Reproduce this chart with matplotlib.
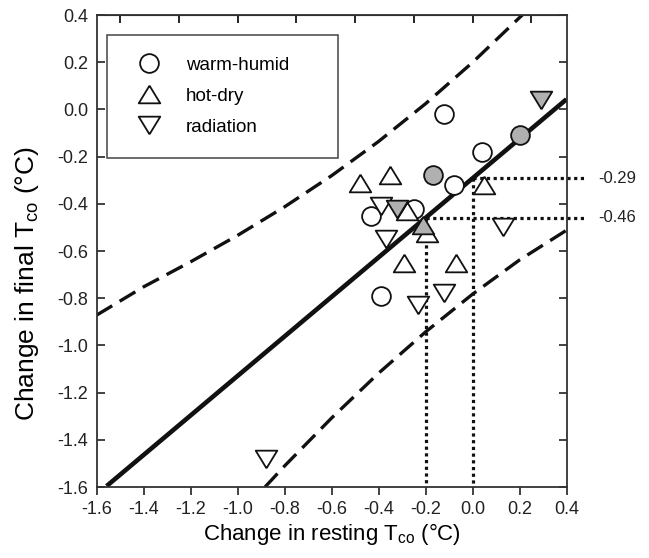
import numpy as np
import matplotlib
matplotlib.use("Agg")
import matplotlib.pyplot as plt
from matplotlib.lines import Line2D

plt.rcParams['font.family'] = ['Liberation Sans', 'DejaVu Sans']
plt.rcParams['mathtext.fontset'] = 'custom'
plt.rcParams['mathtext.rm'] = 'Liberation Sans'
plt.rcParams['mathtext.it'] = 'Liberation Sans:italic'

# datos
wh_x = [-0.12, 0.04, -0.08, -0.43, -0.25, -0.39]
wh_y = [-0.02, -0.18, -0.32, -0.45, -0.42, -0.79]
wh_gx = [0.20, -0.17]
wh_gy = [-0.11, -0.28]

hd_x = [-0.48, -0.35, 0.05, -0.28, -0.195, -0.29, -0.07]
hd_y = [-0.31, -0.28, -0.32, -0.43, -0.525, -0.65, -0.65]
hd_gx = [-0.21]
hd_gy = [-0.49]

rad_x = [-0.39, 0.13, -0.37, -0.23, -0.12, -0.88]
rad_y = [-0.41, -0.50, -0.55, -0.83, -0.78, -1.48]
rad_gx = [0.29, -0.32]
rad_gy = [0.04, -0.42]

# recta de regresion
slope = 0.8375
intercept = -0.292
reg_x = [-1.557, 0.4]

# bandas (leidas)
up_x = [-1.6, -1.4, -1.2, -1.0, -0.8, -0.6, -0.4, -0.2, 0.0, 0.2, 0.212]
up_y = [-0.872, -0.752, -0.646, -0.534, -0.413, -0.281, -0.136, 0.024, 0.199, 0.389, 0.40]
lo_x = [-0.883, -0.8, -0.6, -0.4, -0.2, 0.0, 0.2, 0.4]
lo_y = [-1.6, -1.511, -1.308, -1.118, -0.943, -0.783, -0.638, -0.512]

# lineas punteadas
ann_x = [0.0, -0.2]
ann_lbl = ['-0.29', '-0.46']

ticks = [-1.6, -1.4, -1.2, -1.0, -0.8, -0.6, -0.4, -0.2, 0.0, 0.2, 0.4]
tick_lbl = ['-1.6', '-1.4', '-1.2', '-1.0', '-0.8', '-0.6', '-0.4', '-0.2', '0.0', '0.2', '0.4']

gray = '#b0b0b0'
ink = '#111111'
tri_up = [(0, 0.82), (-1, -0.82), (1, -0.82), (0, 0.82)]
tri_dn = [(0, -0.82), (-1, 0.82), (1, 0.82), (0, -0.82)]

fig = plt.figure(figsize=(6.49, 5.58), dpi=100)
ax = fig.add_axes([0.1487, 0.1272, 0.7242, 0.8459])
ax.set_xlim(-1.6, 0.4)
ax.set_ylim(-1.6, 0.4)

# bandas y regresion
ax.plot(up_x, up_y, color=ink, lw=2.4, dashes=(5.5, 2.6), dash_capstyle='butt', zorder=2)
ax.plot(lo_x, lo_y, color=ink, lw=2.4, dashes=(5.5, 2.6), dash_capstyle='butt', zorder=2)
ry = [slope * v + intercept for v in reg_x]
ax.plot(reg_x, ry, color=ink, lw=3.3, solid_capstyle='butt', zorder=2)

# punteadas
for xv, lbl in zip(ann_x, ann_lbl):
    yv = slope * xv + intercept
    ax.plot([xv, xv], [yv, -1.6], color=ink, lw=2.3, dashes=(1, 1.1),
            dash_capstyle='butt', zorder=2, clip_on=False)
    ax.plot([xv, 0.477], [yv, yv], color=ink, lw=2.3, dashes=(1, 1.1),
            dash_capstyle='butt', zorder=2, clip_on=False)
    ax.text(0.534, yv, lbl, fontsize=12, ha='left', va='center', color='#222222')

# puntos
mk = dict(linestyle='none', markeredgecolor=ink, markeredgewidth=1.3, zorder=4)
ax.plot(wh_x, wh_y, marker='o', ms=13.5, markerfacecolor='white', **mk)
ax.plot(wh_gx, wh_gy, marker='o', ms=13.5, markerfacecolor=gray, **mk)
ax.plot(hd_x, hd_y, marker=tri_up, ms=15.5, markerfacecolor='white', **mk)
ax.plot(hd_gx, hd_gy, marker=tri_up, ms=15.5, markerfacecolor=gray, **mk)
ax.plot(rad_x, rad_y, marker=tri_dn, ms=15.5, markerfacecolor='white', **mk)
ax.plot(rad_gx, rad_gy, marker=tri_dn, ms=15.5, markerfacecolor=gray, **mk)

# ejes
ax.set_xticks(ticks)
ax.set_xticklabels(tick_lbl)
ax.set_yticks(ticks)
ax.set_yticklabels(tick_lbl)
for s in ax.spines.values():
    s.set_linewidth(1.3)
    s.set_color('#333333')
ax.tick_params(axis='both', labelsize=13, colors='#222222', width=1.2, length=6)
ax.tick_params(axis='y', direction='in', right=True, pad=6)
ax.tick_params(axis='x', direction='out', pad=4)
ax.tick_params(axis='x', which='both', top=False)
ax.secondary_xaxis('top').tick_params(direction='in', labeltop=False, length=6, width=1.2)
ax.set_xlabel('Change in resting T$_{\\rm co}$ (°C)', fontsize=16, labelpad=2)
ax.set_ylabel('Change in final T$_{\\rm co}$ (°C)', fontsize=19)
ax.yaxis.set_label_coords(-0.118, 0.43)

# leyenda
h = [Line2D([], [], marker='o', ms=13.5, mfc='white', **mk),
     Line2D([], [], marker=tri_up, ms=15.5, mfc='white', **mk),
     Line2D([], [], marker=tri_dn, ms=15.5, mfc='white', **mk)]
leg = ax.legend(h, ['warm-humid', 'hot-dry', 'radiation'], loc='upper left',
                bbox_to_anchor=(0.0217, 0.696, 0.492, 0.2616), mode='expand',
                fontsize=13.5, frameon=True, fancybox=False, framealpha=1,
                edgecolor='#444444', borderpad=1.16, labelspacing=0.74,
                handlelength=2.24, handletextpad=0.84, borderaxespad=0)
leg.get_frame().set_linewidth(1.1)

fig.savefig('out.png', dpi=100)
